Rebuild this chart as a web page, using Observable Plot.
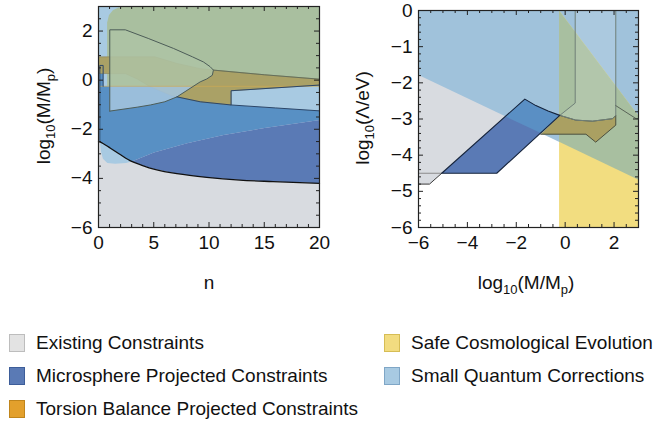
<!DOCTYPE html>
<html>
<head>
<meta charset="utf-8">
<script src="https://cdn.jsdelivr.net/npm/d3@7"></script>
<script src="https://cdn.jsdelivr.net/npm/@observablehq/plot@0.6"></script>
<style>
  html, body { margin: 0; padding: 0; background: #fff; }
  #wrap { position: relative; width: 655px; height: 426px; overflow: hidden; font-family: 'Liberation Sans', Arial, sans-serif; }
  #left, #right { position: absolute; top: 0; }
  #left { left: 0; }
  #right { left: 330px; }
  .leg { position: absolute; height: 20px; display: flex; align-items: center; font-size: 19px; color: #111; white-space: nowrap; }
  .sw { width: 16px; height: 18px; box-sizing: border-box; border: 1.5px solid; margin-right: 11px; }
</style>
</head>
<body>
<div id="wrap">
  <div id="left"></div>
  <div id="right"></div>
  <div id="legend"></div>
</div>
<script>
// ---------------- DATA ----------------
// Left panel: x = n, y = log10(M/Mp)
const leftXTicks = [0, 5, 10, 15, 20];
const leftYTicks = [-6, -4, -2, 0, 2];
const rightXTicks = [-6, -4, -2, 0, 2];
const rightYTicks = [-6, -5, -4, -3, -2, -1, 0];

// existing-constraint boundary (black curve)
const leftExistingCurve = [[0,-2.5],[0.18,-2.52],[1.08,-2.77],[2,-3.04],[3,-3.31],[4,-3.48],[5,-3.62],[7.1,-3.81],[9.8,-3.96],[12.8,-4.07],[15.8,-4.13],[20,-4.2]];
const leftSQC = [[0,3],[20,3],[20,-1.62],[15,-1.95],[11.3,-2.23],[8,-2.57],[5,-2.95],[3,-3.31],[2.5,-3.37],[1.5,-3.4],[0.8,-3.37],[0.4,-3.2],[0.22,-2.9],[0.12,-2.5],[0,-2.5]];
const leftSafeOverlap = [[0.78,-0.25],[0.78,2.35],[0.95,2.65],[1.3,2.85],[1.8,2.96],[2.4,3],[20,3],[20,-0.25]];
const leftMicroUpper = [[0.12,0.6],[0.42,0.6],[0.42,-0.25],[7.1,-0.25],[7.1,-0.68],[9.2,-0.88],[11.9,-1.01],[16,-1.13],[20,-1.25],[20,-1.62],[15,-1.95],[11.3,-2.23],[8,-2.57],[5,-2.95],[3,-3.31],[2,-3.04],[1.08,-2.77],[0.18,-2.52],[0.12,-2.5]];
const leftMicroLower = [[3,-3.31],[5,-2.95],[8,-2.57],[11.3,-2.23],[15,-1.95],[20,-1.62],[20,-4.2],[15.8,-4.13],[12.8,-4.07],[9.8,-3.96],[7.1,-3.81],[5,-3.62],[4,-3.48]];
const leftTorsion = [[0,0.95],[5.1,0.95],[7.1,0.68],[9.2,0.47],[10.4,0.41],[15,0.22],[20,0.04],[20,-0.2],[12,-0.43],[12,-1.01],[9.2,-0.88],[7.1,-0.68],[6.5,-0.61],[4.7,-0.27],[3.5,0.05],[2.43,0.27],[0,0.27]];
const leftTongueTop = [[1.02,-0.25],[1.02,2.05],[2.43,2.05],[4.5,1.7],[6.8,1.29],[8.5,0.95],[9.5,0.74],[10.1,0.55],[10.4,0.41],[10.3,0.2],[9.8,0.05],[9.2,-0.07],[8.58,-0.25]];
const leftTongueBottom = [[1.02,-0.25],[8.58,-0.25],[7.1,-0.68],[6,-0.88],[4.7,-1.01],[3.5,-1.1],[1.02,-1.26]];
const leftTongueOutline = [[1.02,-1.26],[1.02,2.05],[2.43,2.05],[4.5,1.7],[6.8,1.29],[8.5,0.95],[9.5,0.74],[10.1,0.55],[10.4,0.41],[10.3,0.2],[9.8,0.05],[9.2,-0.07],[7.1,-0.68],[6,-0.88],[4.7,-1.01],[3.5,-1.1],[1.02,-1.26]];
const leftTorsionEdgeTop = [[10.4,0.41],[15,0.22],[20,0.04]];
const leftMicroEdge = [[20,-0.2],[12,-0.43],[12,-1.01],[9.2,-0.88],[7.1,-0.68]];
const leftMicroEdge2 = [[12,-1.01],[16,-1.13],[20,-1.25]];
const leftSpike = [[0.12,-2.5],[0.12,0.6],[0.42,0.6],[0.42,-0.25]];
const leftSafeEdge = [[0.12,-0.25],[20,-0.25]];

// Right panel: x = log10(M/Mp), y = log10(Λ/eV)
const rightExisting = [[-6,0],[-6,-4.8],[-5.55,-4.8],[-1.65,-2.45],[-1.65,0]];
const rightExistingEdge = [[-6,-4.8],[-5.55,-4.8],[-5.05,-4.5]];
const rightExistingLine = [[-6,-4.5],[-5.05,-4.5]];
const rightSQC = [[-6,0],[3,0],[3,-4.68],[-6,-1.78]];
const rightSafe = [[-0.25,0],[3,-2.92],[3,-6],[-0.25,-6]];
const rightSafeOverlap = [[-0.25,0],[3,-2.92],[3,-4.68],[-0.25,-3.63]];
const rightMicro = [[-5.05,-4.5],[-2.8,-4.5],[-0.22,-2.9],[-0.7,-2.78],[-1.2,-2.63],[-1.65,-2.45]];
const rightMicroOverlap = [[-2.44,-2.93],[-1.65,-2.45],[-1.2,-2.63],[-0.7,-2.78],[-0.22,-2.9],[-1.0,-3.39]];
const rightTorsion = [[-1.0,-3.42],[0.85,-3.42],[1.25,-3.64],[2.07,-3.17],[2.07,-2.9],[1.94,-2.99],[1.12,-3.06],[0.43,-3.03],[-0.22,-2.9]];
const rightCup = [[0.41,0],[0.41,-2.56],[-0.22,-2.9],[0.43,-3.03],[1.12,-3.06],[1.94,-2.99],[2.07,-2.9],[2.07,0]];
const rightTorsionTail = [[2.07,-2.63],[2.9,-2.99],[3,-2.99]];

// legend entries
const legendLabels = ["Existing Constraints", "Microsphere Projected Constraints", "Torsion Balance Projected Constraints", "Safe Cosmological Evolution", "Small Quantum Corrections"];
const legendFills = ["#e3e3e3", "#5a7ab5", "#e3a02c", "#f2dc80", "#a8cae2"];
const legendBorders = ["#bdbdbd", "#3d5d99", "#c0851c", "#d6bd55", "#7fa6c6"];

// ---------------- DRAWING ----------------
const font = "'Liberation Sans', Arial, sans-serif";
const fmt = d => d < 0 ? "\u2212" + (-d) : String(d);
const poly = (pts, o) => Plot.line(pts, {x: d => d[0], y: d => d[1], stroke: "none", ...o});
const edge = (pts, o) => Plot.line(pts, {x: d => d[0], y: d => d[1], fill: "none", strokeWidth: 1, ...o});

function frameTicks(xMajor, xMinor, yMajor, yMinor, iw, ih) {
  const L = 5, S = 3;
  return [
    Plot.ruleX(xMajor, {insetTop: ih - L, stroke: "#222"}),
    Plot.ruleX(xMajor, {insetBottom: ih - L, stroke: "#222"}),
    Plot.ruleX(xMinor, {insetTop: ih - S, stroke: "#222"}),
    Plot.ruleX(xMinor, {insetBottom: ih - S, stroke: "#222"}),
    Plot.ruleY(yMajor, {insetRight: iw - L, stroke: "#222"}),
    Plot.ruleY(yMajor, {insetLeft: iw - L, stroke: "#222"}),
    Plot.ruleY(yMinor, {insetRight: iw - S, stroke: "#222"}),
    Plot.ruleY(yMinor, {insetLeft: iw - S, stroke: "#222"}),
    Plot.frame({stroke: "#222", strokeWidth: 1.2})
  ];
}
const notIn = arr => v => !arr.some(a => Math.abs(a - v) < 1e-9);

// Left panel
const LW = 330, LH = 290, LML = 98, LMR = 11, LMT = 6, LMB = 63;
const liw = LW - LML - LMR, lih = LH - LMT - LMB;
const leftPlot = Plot.plot({
  width: LW, height: LH,
  marginLeft: LML, marginRight: LMR, marginTop: LMT, marginBottom: LMB,
  style: {fontFamily: font, fontSize: "19px", color: "#111", background: "transparent", overflow: "visible"},
  x: {domain: [0, 20], ticks: leftXTicks, tickSize: 0, tickPadding: 8, tickFormat: fmt, label: null},
  y: {domain: [-6, 3], ticks: leftYTicks, tickSize: 0, tickPadding: 6, tickFormat: fmt, label: null},
  marks: [
    poly(leftExistingCurve.concat([[20,-6],[0,-6]]), {fill: "#d8dbe0"}),
    poly(leftSQC, {fill: "#a8cae2"}),
    poly(leftSafeOverlap, {fill: "#a9bf9f"}),
    poly(leftMicroUpper, {fill: "#5890c4"}),
    poly(leftMicroLower, {fill: "#5a7ab5"}),
    poly(leftTorsion, {fill: "#aaa166", stroke: "#8c8050", strokeWidth: 0.8, strokeOpacity: 0.7}),
    poly(leftTongueTop, {fill: "#aec3a4", fillOpacity: 0.85}),
    poly(leftTongueBottom, {fill: "#a3c4de", fillOpacity: 0.88}),
    edge(leftSafeEdge, {stroke: "#d6ab50", strokeOpacity: 0.6}),
    edge(leftTongueOutline, {stroke: "#4d5d58"}),
    edge(leftTorsionEdgeTop, {stroke: "#5f6b5a", strokeWidth: 0.9}),
    edge(leftMicroEdge, {stroke: "#2c4668"}),
    edge(leftMicroEdge2, {stroke: "#2c4668"}),
    edge(leftSpike, {stroke: "#2c4668"}),
    edge(leftExistingCurve, {stroke: "#111", strokeWidth: 1.3, curve: "catmull-rom"}),
    ...frameTicks(leftXTicks, d3.range(0, 21, 1).filter(notIn(leftXTicks)), leftYTicks, d3.range(-6, 3.01, 0.5).filter(notIn(leftYTicks)), liw, lih)
  ]
});
document.getElementById("left").appendChild(leftPlot);

// Right panel
const RW = 325, RH = 290, RML = 88, RMR = 17, RMT = 10, RMB = 63;
const riw = RW - RML - RMR, rih = RH - RMT - RMB;
const rightPlot = Plot.plot({
  width: RW, height: RH,
  marginLeft: RML, marginRight: RMR, marginTop: RMT, marginBottom: RMB,
  style: {fontFamily: font, fontSize: "19px", color: "#111", background: "transparent", overflow: "visible"},
  x: {domain: [-6, 3], ticks: rightXTicks, tickSize: 0, tickPadding: 8, tickFormat: fmt, label: null},
  y: {domain: [-6, 0], ticks: rightYTicks, tickSize: 0, tickPadding: 6, tickFormat: fmt, label: null},
  marks: [
    poly(rightExisting, {fill: "#d8dbe0"}),
    poly(rightSQC, {fill: "#a0c2db"}),
    poly(rightSafe, {fill: "#f2dd80"}),
    poly(rightSafeOverlap, {fill: "#a8bfa0"}),
    poly(rightMicro, {fill: "#5a7ab5"}),
    poly(rightMicroOverlap, {fill: "#5a8fc4"}),
    poly(rightTorsion, {fill: "#aaa062", stroke: "#4b5040", strokeWidth: 1}),
    poly(rightCup, {fill: "#ffffff", fillOpacity: 0.12, stroke: "#6f7f78", strokeWidth: 1}),
    edge(rightTorsionTail, {stroke: "#5a6458"}),
    edge(rightExistingLine, {stroke: "#8a8a8a"}),
    edge(rightExistingEdge, {stroke: "#3a3a3a"}),
    edge(rightMicro.concat([rightMicro[0]]), {stroke: "#16243c", strokeWidth: 1.1}),
    ...frameTicks(rightXTicks, d3.range(-6, 3.01, 0.5).filter(notIn(rightXTicks)), rightYTicks, d3.range(-6, 0.01, 0.2).filter(notIn(rightYTicks)), riw, rih)
  ]
});
document.getElementById("right").appendChild(rightPlot);

// axis titles with subscripts
function addLabel(svg, x, y, rotate, parts) {
  const t = d3.select(svg).append("text")
    .attr("transform", `translate(${x},${y})` + (rotate ? " rotate(-90)" : ""))
    .attr("text-anchor", "middle")
    .attr("font-family", font)
    .attr("font-size", 19)
    .attr("fill", "#111");
  let shifted = false;
  for (const [s, sub] of parts) {
    const ts = t.append("tspan").text(s);
    if (sub && !shifted) { ts.attr("dy", 5).attr("font-size", 13); shifted = true; }
    else if (!sub && shifted) { ts.attr("dy", -5); shifted = false; }
    else if (sub) ts.attr("font-size", 13);
  }
}
addLabel(leftPlot, 50, 116, true, [["log", false], ["10", true], ["(M/M", false], ["p", true], [")", false]]);
addLabel(leftPlot, 209, 289, false, [["n", false]]);
addLabel(rightPlot, 39, 118, true, [["log", false], ["10", true], ["(\u039b/eV)", false]]);
addLabel(rightPlot, 196, 289, false, [["log", false], ["10", true], ["(M/M", false], ["p", true], [")", false]]);

// legend
const legPos = [[9, 333], [9, 366], [9, 399], [384, 333], [384, 366]];
const legend = document.getElementById("legend");
legendLabels.forEach((lab, i) => {
  const d = document.createElement("div");
  d.className = "leg";
  d.style.left = legPos[i][0] + "px";
  d.style.top = legPos[i][1] + "px";
  const sw = document.createElement("div");
  sw.className = "sw";
  sw.style.background = legendFills[i];
  sw.style.borderColor = legendBorders[i];
  d.appendChild(sw);
  const sp = document.createElement("span");
  sp.textContent = lab;
  d.appendChild(sp);
  legend.appendChild(d);
});
</script>
</body>
</html>
